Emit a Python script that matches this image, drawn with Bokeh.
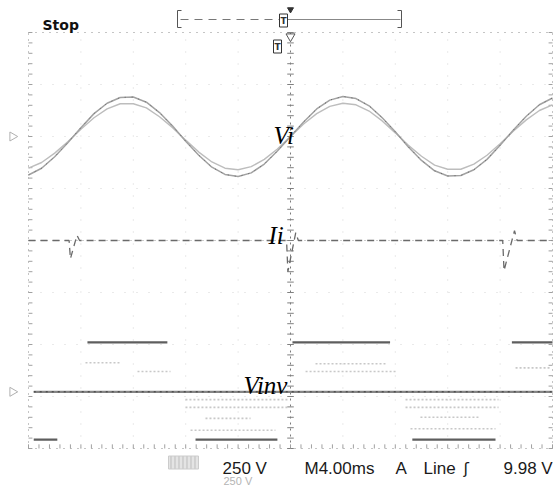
from bokeh.plotting import figure
from bokeh.models import Range1d
from bokeh.core.properties import value
from bokeh.embed import file_html
from bokeh.resources import INLINE

# ---- scope settings ----
MS_PER_DIV = 4.0          # M4.00ms
H_DIVS = 10
V_DIVS = 8

# ---- trace data (time in ms, amplitude in divisions from screen centre) ----
t_ms = list(range(-20, 21))

vi_outer = [1.26, 1.39, 1.61, 1.88, 2.17, 2.44, 2.64, 2.75, 2.76, 2.66, 2.46,
            2.20, 1.91, 1.64, 1.41, 1.27, 1.23, 1.30, 1.47, 1.72, 2.00, 2.28,
            2.53, 2.70, 2.77, 2.73, 2.59, 2.36, 2.09, 1.80, 1.54, 1.34, 1.24,
            1.25, 1.36, 1.56, 1.83, 2.12, 2.39, 2.61, 2.74]
vi_inner = [1.39, 1.50, 1.68, 1.90, 2.14, 2.36, 2.53, 2.63, 2.63, 2.55, 2.38,
            2.17, 1.93, 1.70, 1.51, 1.39, 1.36, 1.42, 1.56, 1.76, 2.00, 2.24,
            2.44, 2.58, 2.64, 2.61, 2.49, 2.30, 2.07, 1.83, 1.62, 1.45, 1.37,
            1.37, 1.47, 1.64, 1.86, 2.10, 2.32, 2.50, 2.61]

ii_t = [-20.0, -16.9, -16.8, -16.3, -16.1, -0.3, -0.2, 0.4, 0.6,
        16.2, 16.3, 17.1, 17.3, 20.0]
ii_v = [0.0, 0.0, -0.35, 0.10, 0.0, 0.0, -0.60, 0.15, 0.0,
        0.0, -0.58, 0.19, 0.0, 0.0]

# inverter output: zero level, positive and negative pulse envelopes
vinv_zero = -2.91
vinv_pos = -1.96
vinv_neg = -3.83
vinv_pos_start = [-15.5, 0.15, 16.9]
vinv_pos_end = [-9.4, 7.6, 20.0]
vinv_neg_start = [-19.6, -7.25, 9.3]
vinv_neg_end = [-17.8, -1.0, 15.65]

# faint intermediate PWM levels
pwm_start = [-15.65, -11.68, 1.15, 1.91, 17.18, -8.02, -8.02, -6.49, -7.63,
             8.78, 8.78, 9.92, 9.16]
pwm_end = [-12.98, -9.16, 8.02, 7.25, 19.85, -0.23, -0.23, -3.05, -1.15,
           15.88, 15.88, 14.5, 15.65]
pwm_level = [-2.35, -2.52, -2.52, -2.37, -2.45, -3.06, -3.21, -3.42, -3.65,
             -3.06, -3.21, -3.40, -3.62]

channel_scale = "250 V"
timebase = "M4.00ms"
trigger_chan = "A"
trigger_src = "Line"
trigger_level = "9.98 V"

# ---- screen geometry: the whole canvas is the data frame ----
W, H = 557, 487
CX, CY = 290.0, 240.0          # screen centre in pixels
PX_PER_MS = 13.1
PX_PER_DIV = 52.0


def sx(px):
    return (px - CX) / PX_PER_MS


def sy(py):
    return (CY - py) / PX_PER_DIV


p = figure(width=W, height=H, x_range=Range1d(sx(0), sx(W)),
           y_range=Range1d(sy(H), sy(0)), x_axis_type=None, y_axis_type=None,
           output_backend="svg", toolbar_location=None, min_border=0)
p.xgrid.visible = False
p.ygrid.visible = False
p.outline_line_color = None
p.background_fill_color = "white"
p.border_fill_color = "white"

half_t = H_DIVS / 2 * MS_PER_DIV
half_v = V_DIVS / 2

# ---- graticule ----
for i in range(-4, 5):
    if i != 0:
        p.line([i * MS_PER_DIV] * 2, [-half_v, half_v], line_color="#d4d4d4",
               line_width=1, line_dash="1 11")
for j in range(-3, 4):
    if j != 0:
        p.line([-half_t, half_t], [j, j], line_color="#d4d4d4",
               line_width=1, line_dash="1 11")
# border
p.line([-half_t, half_t], [half_v, half_v], line_color="#8a8a8a", line_dash="1 6")
p.line([-half_t, half_t], [-half_v, -half_v], line_color="#8a8a8a", line_dash="1 6")
p.line([-half_t, -half_t], [-half_v, half_v], line_color="#8a8a8a", line_dash="1 5")
p.line([half_t, half_t], [-half_v, half_v], line_color="#8a8a8a", line_dash="1 5")
# centre cross
p.line([0, 0], [-half_v, half_v], line_color="#7a7a7a", line_dash="2 4")
p.line([-half_t, half_t], [0, 0], line_color="#9a9a9a", line_dash="1 5")

tick_y = [k * 0.2 for k in range(-20, 21)]
p.segment(x0=[-0.25] * len(tick_y), y0=tick_y, x1=[0.25] * len(tick_y), y1=tick_y,
          line_color="#808080", line_width=1)
p.segment(x0=[-half_t] * len(tick_y), y0=tick_y, x1=[-half_t + 0.3] * len(tick_y),
          y1=tick_y, line_color="#a0a0a0", line_width=1)
p.segment(x0=[half_t - 0.3] * len(tick_y), y0=tick_y, x1=[half_t] * len(tick_y),
          y1=tick_y, line_color="#a0a0a0", line_width=1)
tick_x = [k * 0.8 for k in range(-25, 26)]
p.segment(x0=tick_x, y0=[-half_v] * len(tick_x), x1=tick_x,
          y1=[-half_v + 0.08] * len(tick_x), line_color="#a0a0a0", line_width=1)

# ---- traces ----
p.line(t_ms, vi_inner, line_color="#bdbdbd", line_width=1.4)
p.line(t_ms, vi_outer, line_color="#a2a2a2", line_width=1.5)
p.line(t_ms, vi_outer, line_color="#666666", line_width=1, line_dash="1 6")

p.line(ii_t, ii_v, line_color="#6a6a6a", line_width=1.3, line_dash="7 5")

p.segment(x0=pwm_start, y0=pwm_level, x1=pwm_end, y1=pwm_level,
          line_color="#c8c8c8", line_width=1.6, line_dash="2 2")
p.line([-19.6, half_t], [vinv_zero, vinv_zero], line_color="#858585", line_width=2.2)
p.line([-19.6, half_t], [vinv_zero, vinv_zero], line_color="#3a3a3a",
       line_width=1, line_dash="2 4")
p.segment(x0=vinv_pos_start, y0=[vinv_pos] * 3, x1=vinv_pos_end, y1=[vinv_pos] * 3,
          line_color="#5e5e5e", line_width=2.4)
p.segment(x0=vinv_neg_start, y0=[vinv_neg] * 3, x1=vinv_neg_end, y1=[vinv_neg] * 3,
          line_color="#5e5e5e", line_width=2.4)

# ---- trace labels ----
p.text(x=[sx(273), sx(268), sx(243)], y=[sy(135), sy(235), sy(385)],
       text=["Vi", "Ii", "Vinv"], text_font=value("Liberation Serif"),
       text_font_style="italic", text_font_size="25px", text_color="black",
       text_align="left", text_baseline="alphabetic")

# ---- channel ground markers ----
p.scatter(x=[sx(12), sx(12)], y=[vi_outer[20], vinv_zero], marker="triangle",
          angle=-1.5708, size=9, fill_color="white", line_color="#b0b0b0")

# ---- top status bar ----
p.text(x=[sx(42)], y=[sy(24)], text=["Stop"], text_font=value("DejaVu Sans"),
       text_font_style="bold", text_font_size="14px", text_color="#111111",
       text_baseline="alphabetic")
p.line([sx(180), sx(280)], [sy(19), sy(19)], line_color="#777777", line_dash="8 6")
p.line([sx(287), sx(400)], [sy(19), sy(19)], line_color="#888888", line_width=1.2)
p.multi_line(xs=[[sx(181), sx(177), sx(177), sx(181)], [sx(397), sx(401), sx(401), sx(397)]],
             ys=[[sy(10), sy(10), sy(27), sy(27)], [sy(10), sy(10), sy(27), sy(27)]],
             line_color="#555555", line_width=1)
p.rect(x=[sx(283), sx(277)], y=[sy(20), sy(46)], width=[8 / PX_PER_MS] * 2,
       height=[13 / PX_PER_DIV] * 2, fill_color="white", line_color="#333333")
p.text(x=[sx(283), sx(277)], y=[sy(20), sy(46)], text=["T", "T"],
       text_font=value("DejaVu Sans"), text_font_style="bold", text_font_size="9px",
       text_align="center", text_baseline="middle", text_color="#333333")
p.scatter(x=[0], y=[sy(9)], marker="inverted_triangle", size=6,
          fill_color="#333333", line_color="#333333")
p.scatter(x=[0], y=[sy(36)], marker="inverted_triangle", size=9,
          fill_color="white", line_color="#555555")

# ---- bottom readout ----
p.rect(x=[sx(183)], y=[sy(462)], width=[30 / PX_PER_MS], height=[13 / PX_PER_DIV],
       fill_color="#e4e4e4", line_color="#cccccc", hatch_pattern="vertical_line",
       hatch_color="#bdbdbd", hatch_scale=4)
p.text(x=[sx(222), sx(304), sx(395), sx(423), sx(503)], y=[sy(468)] * 5,
       text=[channel_scale, timebase, trigger_chan, trigger_src, trigger_level],
       text_font=value("Liberation Sans"), text_font_size="17px",
       text_color="#1a1a1a", text_baseline="alphabetic")
p.text(x=[sx(463)], y=[sy(468)], text=["ʃ"], text_font=value("DejaVu Sans"),
       text_font_size="16px", text_color="#1a1a1a", text_baseline="alphabetic")
p.text(x=[sx(223)], y=[sy(480)], text=[channel_scale],
       text_font=value("Liberation Sans"), text_font_size="11px",
       text_color="#b4b4b4", text_baseline="alphabetic")

open("out.html", "w").write(file_html(p, INLINE))
